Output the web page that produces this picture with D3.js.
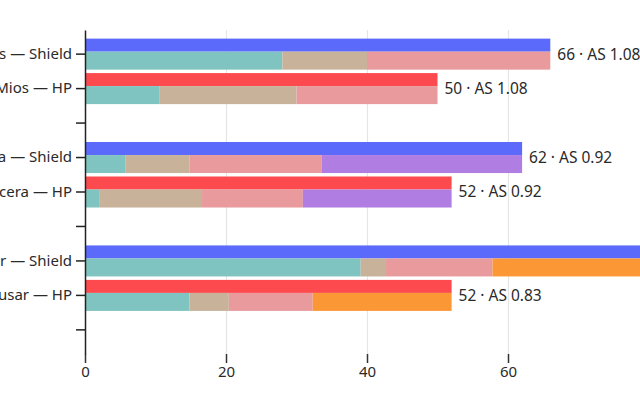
<!DOCTYPE html>
<html>
<head>
<meta charset="utf-8">
<script src="https://cdn.jsdelivr.net/npm/d3@7"></script>
<style>
  body { margin: 0; background: #fff; }
  svg { display: block; font-family: "Noto Sans", sans-serif; }
</style>
</head>
<body>
<div id="chart"></div>
<script>
const MARGIN = { TOP: 30, LEFT: 85 };
const WIDTH = 640, HEIGHT = 400;
const INNER_H = 324;

// data
const units = ["Mios", "Lucera", "Kusar"];
const attackSpeed = [1.08, 0.92, 0.83];
const shieldTotal = [66, 62, 84];
const hpTotal = [50, 52, 52];
const shieldBase = [28, 5.7, 39.1];
const shieldGear = [12, 9.1, 3.6];
const shieldBuff = [26, 18.8, 15.1];
const shieldExtra = [0, 28.4, 26.2];
const hpBase = [10.6, 2.1, 14.8];
const hpGear = [19.4, 14.5, 5.6];
const hpBuff = [20, 14.3, 11.9];
const hpExtra = [0, 21.1, 19.7];
const xTicks = [0, 20, 40, 60, 80];

const partKeys = ["base", "gear", "buff", "extra"];

// rows: Shield, HP, then an empty spacer per unit
let rows = [];
units.forEach((u, i) => {
  rows.push({ key: `${u} — Shield`, unit: u, kind: "Shield", total: shieldTotal[i], as: attackSpeed[i],
    base: shieldBase[i], gear: shieldGear[i], buff: shieldBuff[i], extra: shieldExtra[i] });
  rows.push({ key: `${u} — HP`, unit: u, kind: "HP", total: hpTotal[i], as: attackSpeed[i],
    base: hpBase[i], gear: hpGear[i], buff: hpBuff[i], extra: hpExtra[i] });
  rows.push({ key: `gap-${i}`, spacer: true });
});
const barRows = rows.filter((d) => !d.spacer);

const svg = d3.select("#chart").append("svg")
  .attr("width", WIDTH)
  .attr("height", HEIGHT);

const g = svg.append("g").attr("transform", `translate(${MARGIN.LEFT}, ${MARGIN.TOP})`);

const xScale = d3.scaleLinear().domain([0, 80]).range([0, 564]);
const yScale = d3.scaleBand()
  .domain(rows.map((d) => d.key))
  .range([0, INNER_H])
  .paddingInner(0.1)
  .paddingOuter(0.25);

// gridlines
const grid = g.append("g")
  .call(d3.axisBottom(xScale).tickValues(xTicks.slice(1)).tickSize(INNER_H).tickFormat(""));
grid.select(".domain").remove();
grid.selectAll("line").attr("stroke", "#e5e5e5").attr("stroke-width", 1.2);

const totalColor = { Shield: "#5c6afc", HP: "#fd4a4f" };
const partColor = d3.scaleOrdinal().domain(["base", "gear", "buff"]).range(["#7fc4c0", "#c8b29a", "#e89a9d"]);
const extraColor = d3.scaleOrdinal().domain(units).range(["#b07de3", "#b07de3", "#fc9736"]);

const bw = yScale.bandwidth();
const topH = bw * 0.42;

// total bars
g.selectAll(".total").data(barRows).enter().append("rect")
  .attr("class", "total")
  .attr("x", xScale(0))
  .attr("y", (d) => yScale(d.key))
  .attr("width", (d) => xScale(d.total) - xScale(0))
  .attr("height", topH)
  .attr("fill", (d) => totalColor[d.kind]);

// stacked breakdown
const stacked = d3.stack().keys(partKeys)(barRows);
stacked.forEach((layer) => {
  g.selectAll(`.part-${layer.key}`).data(layer).enter().append("rect")
    .attr("class", `part-${layer.key}`)
    .attr("x", (d) => xScale(d[0]))
    .attr("y", (d) => yScale(d.data.key) + topH)
    .attr("width", (d) => Math.max(0, xScale(d[1]) - xScale(d[0])))
    .attr("height", bw - topH)
    .attr("fill", (d) => layer.key === "extra" ? extraColor(d.data.unit) : partColor(layer.key));
});

// value labels
g.selectAll(".val").data(barRows).enter().append("text")
  .attr("class", "val")
  .attr("x", (d) => xScale(d.total) + 7)
  .attr("y", (d) => yScale(d.key) + bw / 2)
  .attr("dy", "0.35em")
  .attr("fill", "#2a2a2a")
  .style("font-size", "15.5px")
  .text((d) => `${d.total} · AS ${d.as.toFixed(2)}`);

// x axis
const xAxis = g.append("g")
  .attr("transform", `translate(0, ${INNER_H})`)
  .call(d3.axisBottom(xScale).tickValues(xTicks).tickSize(9).tickPadding(3));
xAxis.select(".domain").remove();
xAxis.selectAll("line").attr("stroke", "#333").attr("stroke-width", 1.5);
xAxis.selectAll("text").attr("fill", "#2a2a2a").style("font-size", "15px").style("font-family", "Noto Sans");

// y axis
const yAxis = g.append("g")
  .call(d3.axisLeft(yScale).tickSize(9).tickSizeOuter(0).tickPadding(4)
    .tickFormat((k) => k.startsWith("gap-") ? "" : k));
yAxis.select(".domain").attr("stroke", "#222").attr("stroke-width", 1.5);
yAxis.selectAll("line").attr("stroke", "#222").attr("stroke-width", 1.5);
yAxis.selectAll("text").attr("fill", "#2a2a2a").style("font-size", "15px").style("font-family", "Noto Sans");
</script>
</body>
</html>
